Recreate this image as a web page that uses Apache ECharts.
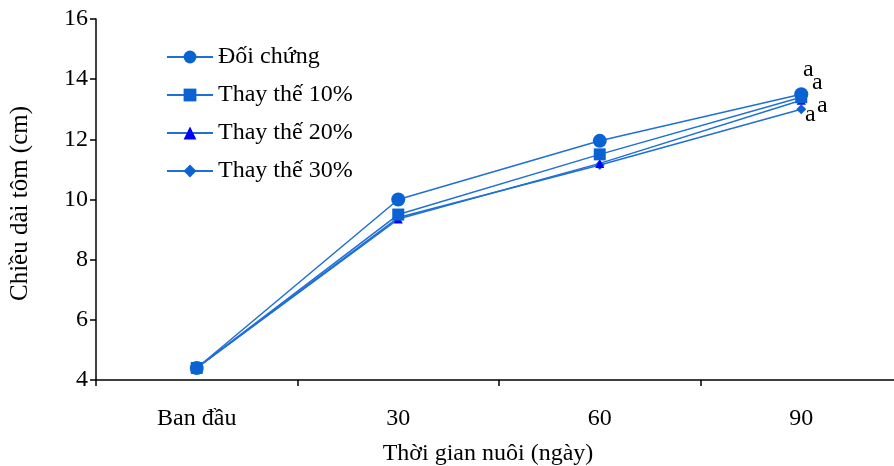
<!DOCTYPE html>
<html>
<head>
<meta charset="utf-8">
<script src="https://cdn.jsdelivr.net/npm/echarts@6/dist/echarts.min.js"></script>
<style>
  html, body { margin: 0; padding: 0; background: #fff; }
  #chart { width: 894px; height: 466px; }
</style>
</head>
<body>
<div id="chart"></div>
<script>
// Shrimp length over the rearing period
const categories = ['Ban đầu', '30', '60', '90'];
const seriesNames = ['Đối chứng', 'Thay thế 10%', 'Thay thế 20%', 'Thay thế 30%'];
const doiChung = [4.4, 10.0, 11.95, 13.5];
const thayThe10 = [4.4, 9.5, 11.5, 13.4];
const thayThe20 = [4.4, 9.35, 11.2, 13.3];
const thayThe30 = [4.4, 9.4, 11.15, 13.0];
const endLabels = ['a', 'a', 'a', 'a'];
const yTicks = { min: 4, max: 16, interval: 2 };

const font = 'Liberation Serif, Times New Roman, serif';
const lineColor = '#1f6fd8';

const symbols = ['circle', 'rect', 'triangle', 'diamond'];
const symbolSizes = [14, 12, 9, 10];
const symbolColors = ['#0b63d3', '#0b63d3', '#0000ff', '#0b63d3'];
const labelOffsets = [[7, -25], [16, -15], [21, 5], [9, 5]];

const values = [doiChung, thayThe10, thayThe20, thayThe30];

const series = values.map((vals, i) => ({
  name: seriesNames[i],
  type: 'line',
  symbol: symbols[i],
  symbolSize: symbolSizes[i],
  itemStyle: { color: symbolColors[i] },
  lineStyle: { color: lineColor, width: 1.5 },
  z: 10 - i,
  data: vals.map((v, j) => {
    if (j !== vals.length - 1) return v;
    return {
      value: v,
      label: {
        show: true,
        formatter: endLabels[i],
        position: 'inside',
        offset: labelOffsets[i],
        color: '#000',
        fontFamily: font,
        fontSize: 24
      }
    };
  })
}));

const chart = echarts.init(document.getElementById('chart'));
chart.setOption({
  animation: false,
  backgroundColor: '#fff',
  textStyle: { fontFamily: font },
  grid: { left: 96, top: 19, width: 806, height: 361, containLabel: false, outerBoundsMode: 'none' },
  legend: {
    orient: 'vertical',
    left: 161,
    top: 40,
    itemWidth: 46,
    itemHeight: 16,
    itemGap: 14,
    data: seriesNames,
    textStyle: { fontFamily: font, fontSize: 24, color: '#000' }
  },
  xAxis: {
    type: 'category',
    data: categories,
    boundaryGap: true,
    name: 'Thời gian nuôi (ngày)',
    nameLocation: 'middle',
    nameGap: 62,
    nameTextStyle: { fontFamily: font, fontSize: 24, color: '#000', padding: [0, 22, 0, 0] },
    axisLine: { lineStyle: { color: '#000', width: 1.5 } },
    axisTick: { show: true, length: 6, inside: false, lineStyle: { color: '#000', width: 1.5 } },
    axisLabel: { fontFamily: font, fontSize: 24, color: '#000', margin: 27 },
    splitLine: { show: false }
  },
  yAxis: {
    type: 'value',
    min: yTicks.min,
    max: yTicks.max,
    interval: yTicks.interval,
    name: 'Chiều dài tôm (cm)',
    nameLocation: 'middle',
    nameGap: 63,
    nameRotate: 90,
    nameTextStyle: { fontFamily: font, fontSize: 25, color: '#000', padding: [0, 8, 0, 0] },
    axisLine: { show: true, lineStyle: { color: '#000', width: 1.5 } },
    axisTick: { show: true, length: 6, inside: false, lineStyle: { color: '#000', width: 1.5 } },
    axisLabel: { fontFamily: font, fontSize: 24, color: '#000', margin: 8 },
    splitLine: { show: false }
  },
  series: series
});
</script>
</body>
</html>
